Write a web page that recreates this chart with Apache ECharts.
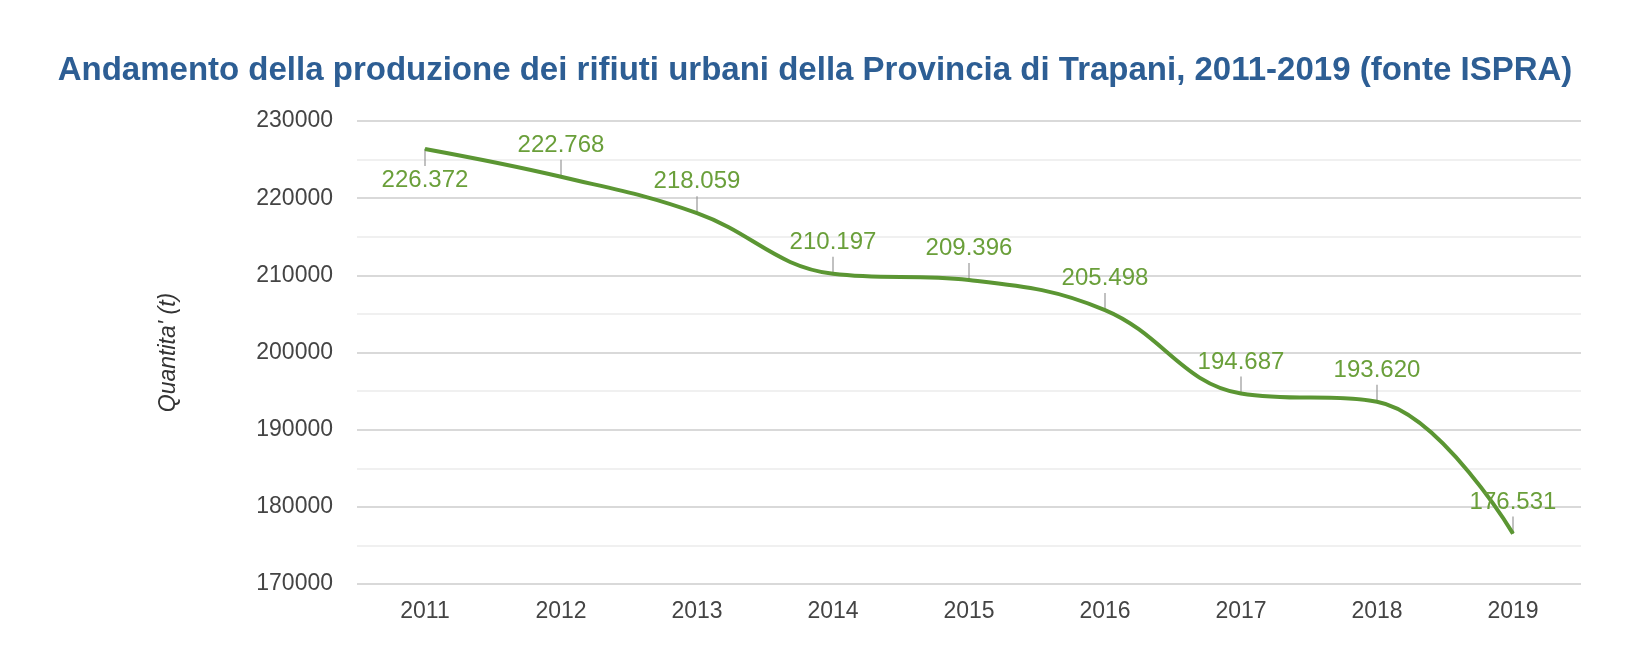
<!DOCTYPE html>
<html>
<head>
<meta charset="utf-8">
<script src="https://cdn.jsdelivr.net/npm/echarts@6/dist/echarts.min.js"></script>
<style>
  html, body { margin: 0; padding: 0; background: #fff; }
  #chart { width: 1630px; height: 652px; }
</style>
</head>
<body>
<div id="chart"></div>
<script>
// Dati (fonte ISPRA)
const anni = ['2011', '2012', '2013', '2014', '2015', '2016', '2017', '2018', '2019'];
const quantita = [226372, 222768, 218059, 210197, 209396, 205498, 194687, 193620, 176531];
const etichetteBasse = ['2011']; // etichetta sotto il punto

// Formattazione con punto come separatore delle migliaia
function formatNumber(n) {
  return n.toString().replace(/\B(?=(\d{3})+(?!\d))/g, '.');
}

const verde = '#5b9633';
const font = 'Liberation Sans, Arial, sans-serif';

const lineData = quantita.map(function(v, i) {
  const sotto = etichetteBasse.indexOf(anni[i]) >= 0;
  return {
    value: v,
    label: { position: sotto ? 'bottom' : 'top' }
  };
});

const tickData = quantita.map(function(v, i) {
  const sotto = etichetteBasse.indexOf(anni[i]) >= 0;
  return {
    value: v,
    symbolOffset: [0, sotto ? 8.5 : -8.5]
  };
});

document.addEventListener('DOMContentLoaded', function() {
  const chart = echarts.init(document.getElementById('chart'));
  chart.setOption({
    animation: false,
    title: {
      text: 'Andamento della produzione dei rifiuti urbani della Provincia di Trapani, 2011-2019 (fonte ISPRA)',
      left: 'center',
      top: 49,
      textStyle: {
        color: '#2d5e94',
        fontSize: 33,
        fontWeight: 'bold',
        fontFamily: font
      }
    },
    grid: {
      left: 357,
      right: 49,
      top: 121,
      bottom: 68
    },
    xAxis: {
      type: 'category',
      data: anni,
      boundaryGap: true,
      axisLine: { show: false },
      axisTick: { show: false },
      axisLabel: {
        color: '#444',
        fontSize: 23,
        fontFamily: font,
        margin: 16
      }
    },
    yAxis: {
      type: 'value',
      min: 170000,
      max: 230000,
      interval: 10000,
      name: "Quantita' (t)",
      nameLocation: 'middle',
      nameGap: 177,
      nameTextStyle: {
        color: '#333',
        fontSize: 23,
        fontStyle: 'italic',
        fontFamily: font
      },
      axisLabel: {
        color: '#444',
        fontSize: 23,
        fontFamily: font,
        margin: 24,
        formatter: function(v) { return String(v); }
      },
      splitLine: { lineStyle: { color: '#cccccc', width: 1.5 } },
      minorTick: { show: false, splitNumber: 2 },
      minorSplitLine: { show: true, lineStyle: { color: '#ececec', width: 1.5 } }
    },
    series: [
      {
        type: 'scatter',
        data: tickData,
        symbol: 'rect',
        symbolSize: [1.5, 17],
        itemStyle: { color: '#999' },
        silent: true,
        z: 1
      },
      {
        type: 'line',
        data: lineData,
        smooth: 0.4,
        showSymbol: true,
        symbol: 'circle',
        symbolSize: 1,
        itemStyle: { color: verde },
        lineStyle: { color: verde, width: 4 },
        label: {
          show: true,
          distance: 19,
          color: '#6a9f3a',
          fontSize: 24,
          fontFamily: font,
          formatter: function(p) { return formatNumber(p.value); }
        },
        z: 2
      }
    ]
  });
});
</script>
</body>
</html>
